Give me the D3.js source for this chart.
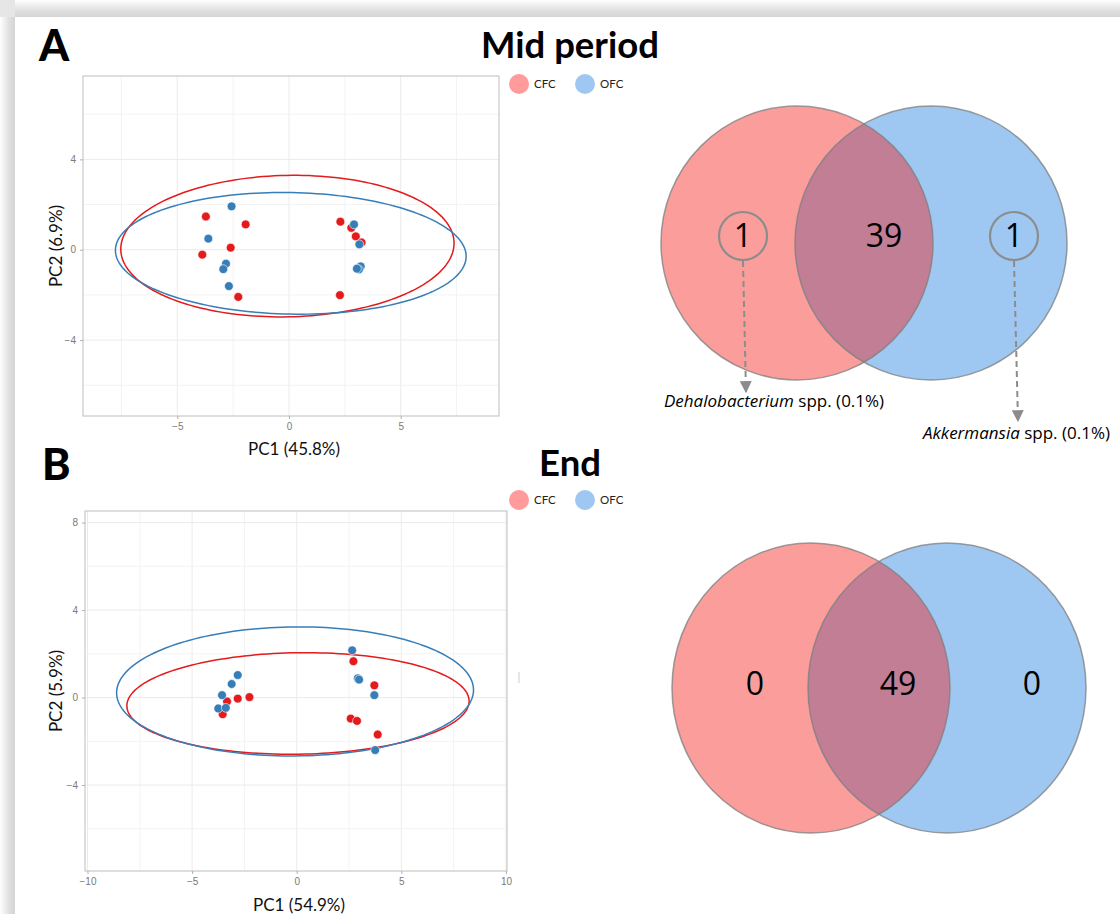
<!DOCTYPE html>
<html><head><meta charset="utf-8">
<script src="https://cdn.jsdelivr.net/npm/d3@7"></script>
<style>
html,body{margin:0;padding:0;background:#fff;}
svg{display:block;}
</style></head>
<body>
<svg id="chart" width="1120" height="914"></svg>
<script>
// ---------- DATA ----------
const groups = ["CFC", "OFC"];
const titles = ["Mid period", "End"];
const panelLetters = ["A", "B"];
const xAxisTitles = ["PC1 (45.8%)", "PC1 (54.9%)"];
const yAxisTitles = ["PC2 (6.9%)", "PC2 (5.9%)"];

const midXTicks = [-5, 0, 5];
const midYTicks = [-4, 0, 4];
const endXTicks = [-10, -5, 0, 5, 10];
const endYTicks = [-4, 0, 4, 8];
const midXDomain = [-9.22, 9.4];
const midYDomain = [-7.36, 7.69];
const endXDomain = [-10.12, 10.05];
const endYDomain = [-7.93, 8.53];

// PCA scores [PC1, PC2]
const midCFC = [[-3.72,1.47],[-1.94,1.12],[-3.88,-0.22],[-2.61,0.09],[-2.27,-2.09],
                [2.30,1.24],[2.79,0.97],[2.99,0.59],[3.25,0.32],[2.28,-2.01]];
const midOFC = [[-2.57,1.92],[-3.61,0.49],[-2.82,-0.62],[-2.94,-0.86],[-2.69,-1.61],
                [2.91,1.12],[3.15,0.24],[3.21,-0.74],[3.13,-0.87],[3.04,-0.84]];
const endCFC = [[2.71,1.66],[3.71,0.56],[2.58,-0.96],[2.88,-1.07],[3.87,-1.69],
                [-3.33,-0.18],[-2.82,-0.05],[-2.26,0.02],[-3.54,-0.76]];
const endOFC = [[2.65,2.16],[2.92,0.88],[2.98,0.82],[3.71,0.11],[3.75,-2.40],
                [-2.82,1.03],[-3.11,0.62],[-3.57,0.11],[-3.75,-0.50],[-3.39,-0.47]];

// confidence ellipses: [centerX, centerY, semiA, semiB, angleDeg]
const midEllCFC = [-0.07, 0.16, 7.46, 3.13, 1.2];
const midEllOFC = [0.08, -0.16, 7.85, 2.69, -1.1];
const endEllCFC = [0.06, -0.27, 8.18, 2.32, 0.8];
const endEllOFC = [-0.08, 0.28, 8.53, 2.95, 0.5];

// Venn counts: [CFC only, shared, OFC only]
const vennMid = [1, 39, 1];
const vennEnd = [0, 49, 0];
const vennMidNotes = [["Dehalobacterium", " spp. (0.1%)"], ["Akkermansia", " spp. (0.1%)"]];

// ---------- STYLE ----------
const ptColor = {CFC: "#E41A1C", OFC: "#377EB8"};
const legColor = {CFC: "#FF9B9B", OFC: "#9EC8F2"};
const vennRed = "#FB9E9B", vennBlue = "#9EC8F2", vennBoth = "#C17E95";
const FONT = "Lato, 'Open Sans', sans-serif";

const svg = d3.select("#chart");

// outer shadowed frame
const defs = svg.append("defs");
const gt = defs.append("linearGradient").attr("id", "gTop").attr("x1", 0).attr("y1", 0).attr("x2", 0).attr("y2", 1);
gt.append("stop").attr("offset", "0%").attr("stop-color", "#ffffff");
gt.append("stop").attr("offset", "60%").attr("stop-color", "#e0e0e0");
gt.append("stop").attr("offset", "100%").attr("stop-color", "#d4d4d4");
const gl = defs.append("linearGradient").attr("id", "gLeft").attr("x1", 0).attr("y1", 0).attr("x2", 1).attr("y2", 0);
gl.append("stop").attr("offset", "0%").attr("stop-color", "#ffffff");
gl.append("stop").attr("offset", "60%").attr("stop-color", "#e0e0e0");
gl.append("stop").attr("offset", "100%").attr("stop-color", "#d4d4d4");
svg.append("rect").attr("width", 1120).attr("height", 914).attr("fill", "#fff");
svg.append("rect").attr("x", 0).attr("y", 0).attr("width", 1120).attr("height", 17).attr("fill", "url(#gTop)");
svg.append("rect").attr("x", 0).attr("y", 0).attr("width", 15).attr("height", 914).attr("fill", "url(#gLeft)");
svg.append("rect").attr("x", 0).attr("y", 0).attr("width", 15).attr("height", 17).attr("fill", "#e6e6e6");

function pcaPanel(cfg) {
  const x = d3.scaleLinear().domain(cfg.xd).range([cfg.x0, cfg.x1]);
  const y = d3.scaleLinear().domain(cfg.yd).range([cfg.y1, cfg.y0]);
  const g = svg.append("g");
  const clipId = "clip" + cfg.id;
  svg.append("clipPath").attr("id", clipId).append("rect")
    .attr("x", cfg.x0).attr("y", cfg.y0).attr("width", cfg.x1 - cfg.x0).attr("height", cfg.y1 - cfg.y0);

  // grid (minor + major)
  const xg = d3.range(Math.ceil(cfg.xd[0] / 2.5) * 2.5, cfg.xd[1], 2.5);
  const yg = d3.range(Math.ceil(cfg.yd[0] / 2) * 2, cfg.yd[1], 2);
  g.selectAll(".vg").data(xg).join("line")
    .attr("x1", d => x(d)).attr("x2", d => x(d)).attr("y1", cfg.y0).attr("y2", cfg.y1)
    .attr("stroke", d => (Math.abs(d % 5) < 1e-6 ? "#ebebeb" : "#f3f3f3")).attr("stroke-width", 1);
  g.selectAll(".hg").data(yg).join("line")
    .attr("y1", d => y(d)).attr("y2", d => y(d)).attr("x1", cfg.x0).attr("x2", cfg.x1)
    .attr("stroke", d => (Math.abs(d % 4) < 1e-6 ? "#ebebeb" : "#f3f3f3")).attr("stroke-width", 1);

  // border
  g.append("rect").attr("x", cfg.x0).attr("y", cfg.y0)
    .attr("width", cfg.x1 - cfg.x0).attr("height", cfg.y1 - cfg.y0)
    .attr("fill", "none").attr("stroke", "#c9c9c9").attr("stroke-width", 1.2);

  // axes
  const xa = g.append("g").attr("transform", `translate(0,${cfg.y1})`)
    .call(d3.axisBottom(x).tickValues(cfg.xt).tickSize(3).tickPadding(4).tickFormat(d3.format("d")));
  const ya = g.append("g").attr("transform", `translate(${cfg.x0},0)`)
    .call(d3.axisLeft(y).tickValues(cfg.yt).tickSize(3).tickPadding(4).tickFormat(d3.format("d")));
  [xa, ya].forEach(a => {
    a.select(".domain").remove();
    a.selectAll(".tick line").attr("stroke", "#b0b0b0");
    a.selectAll(".tick text").attr("fill", "#7a7a7a").attr("font-size", 10)
      .attr("font-family", "'Liberation Sans', Arial, sans-serif");
  });

  // ellipses
  const line = d3.line().x(p => x(p[0])).y(p => y(p[1])).curve(d3.curveLinearClosed);
  const ells = [[cfg.ellC, "CFC"], [cfg.ellO, "OFC"]];
  ells.forEach(([e, grp]) => {
    const [cx, cy, a, b, ang] = e;
    const th = ang * Math.PI / 180;
    const pts = d3.range(0, 360, 2).map(t => {
      const r = t * Math.PI / 180;
      const ex = a * Math.cos(r), ey = b * Math.sin(r);
      return [cx + ex * Math.cos(th) - ey * Math.sin(th), cy + ex * Math.sin(th) + ey * Math.cos(th)];
    });
    g.append("path").attr("d", line(pts)).attr("fill", "none")
      .attr("stroke", ptColor[grp]).attr("stroke-width", 1.5).attr("clip-path", `url(#${clipId})`);
  });

  // points
  [[cfg.ptsC, "CFC"], [cfg.ptsO, "OFC"]].forEach(([pts, grp]) => {
    g.selectAll(".p" + grp).data(pts).join("circle")
      .attr("cx", d => x(d[0])).attr("cy", d => y(d[1])).attr("r", 4.4)
      .attr("fill", ptColor[grp]).attr("stroke", "#fff").attr("stroke-width", 0.6);
  });

  // axis titles
  g.append("text").attr("x", (cfg.x0 + cfg.x1) / 2 + 3).attr("y", cfg.xTitleY)
    .attr("text-anchor", "middle").attr("font-family", FONT).attr("font-size", 17)
    .attr("fill", "#111").text(cfg.xTitle);
  g.append("text").attr("transform", `translate(${cfg.yTitleX},${(cfg.y0 + cfg.y1) / 2}) rotate(-90)`)
    .attr("text-anchor", "middle").attr("font-family", FONT).attr("font-size", 17)
    .attr("fill", "#111").text(cfg.yTitle);

  // legend
  const lg = svg.append("g").attr("transform", `translate(0,${cfg.legY})`);
  const lx = [519, 585];
  groups.forEach((grp, i) => {
    lg.append("circle").attr("cx", lx[i]).attr("cy", 0).attr("r", 10).attr("fill", legColor[grp]);
    lg.append("text").attr("x", lx[i] + 15).attr("y", 4).attr("font-family", FONT)
      .attr("font-size", 11.5).attr("fill", "#222").text(grp);
  });
}

pcaPanel({id: "A", x0: 83, x1: 499, y0: 76, y1: 416, xd: midXDomain, yd: midYDomain,
  xt: midXTicks, yt: midYTicks, ptsC: midCFC, ptsO: midOFC, ellC: midEllCFC, ellO: midEllOFC,
  xTitle: xAxisTitles[0], yTitle: yAxisTitles[0], xTitleY: 455, yTitleX: 62, legY: 84});
pcaPanel({id: "B", x0: 85, x1: 507, y0: 511, y1: 871, xd: endXDomain, yd: endYDomain,
  xt: endXTicks, yt: endYTicks, ptsC: endCFC, ptsO: endOFC, ellC: endEllCFC, ellO: endEllOFC,
  xTitle: xAxisTitles[1], yTitle: yAxisTitles[1], xTitleY: 911, yTitleX: 62, legY: 500});

// Panel letters and titles
svg.append("text").attr("x", 39).attr("y", 61).attr("font-family", FONT).attr("font-weight", 900)
  .attr("font-size", 43).attr("fill", "#000").text(panelLetters[0]);
svg.append("text").attr("x", 42).attr("y", 480).attr("font-family", FONT).attr("font-weight", 900)
  .attr("font-size", 43).attr("fill", "#000").text(panelLetters[1]);
svg.append("text").attr("x", 570).attr("y", 58).attr("text-anchor", "middle").attr("font-family", FONT)
  .attr("font-weight", 700).attr("font-size", 36.5).attr("fill", "#000").text(titles[0]);
svg.append("text").attr("x", 570).attr("y", 476).attr("text-anchor", "middle").attr("font-family", FONT)
  .attr("font-weight", 700).attr("font-size", 36.5).attr("fill", "#000").text(titles[1]);

// small artifact mark
svg.append("line").attr("x1", 519).attr("x2", 519).attr("y1", 672).attr("y2", 683)
  .attr("stroke", "#d6d6d6").attr("stroke-width", 1.2);

// ---------- VENN ----------
function venn(cfg) {
  const g = svg.append("g");
  const id = "vclip" + cfg.id;
  g.append("clipPath").attr("id", id).append("ellipse")
    .attr("cx", cfg.cl).attr("cy", cfg.cy).attr("rx", cfg.rx).attr("ry", cfg.ry);
  g.append("ellipse").attr("cx", cfg.cl).attr("cy", cfg.cy).attr("rx", cfg.rx).attr("ry", cfg.ry)
    .attr("fill", vennRed);
  g.append("ellipse").attr("cx", cfg.cr).attr("cy", cfg.cy).attr("rx", cfg.rx).attr("ry", cfg.ry)
    .attr("fill", vennBlue);
  g.append("ellipse").attr("cx", cfg.cr).attr("cy", cfg.cy).attr("rx", cfg.rx).attr("ry", cfg.ry)
    .attr("fill", vennBoth).attr("clip-path", `url(#${id})`);
  [cfg.cl, cfg.cr].forEach(cx => {
    g.append("ellipse").attr("cx", cx).attr("cy", cfg.cy).attr("rx", cfg.rx).attr("ry", cfg.ry)
      .attr("fill", "none").attr("stroke", "#7d7d7d").attr("stroke-opacity", 0.75).attr("stroke-width", 1.5);
  });
  const pos = cfg.textX;
  cfg.counts.forEach((c, i) => {
    g.append("text").attr("x", pos[i]).attr("y", cfg.textY).attr("text-anchor", "middle")
      .attr("font-family", "'Open Sans', 'Noto Sans', sans-serif").attr("font-size", cfg.fs)
      .attr("fill", "#000").text(c);
  });
  return g;
}

venn({id: "A", cl: 797, cr: 931, cy: 243, rx: 136, ry: 137, counts: vennMid,
  textX: [743, 884, 1014], textY: 247, fs: 32});
venn({id: "B", cl: 811, cr: 947, cy: 688, rx: 139, ry: 145, counts: vennEnd,
  textX: [755, 898, 1032], textY: 695, fs: 32});

// annotation circles + dashed arrows for mid period
defs.append("marker").attr("id", "arr").attr("viewBox", "0 0 10 10")
  .attr("refX", 9).attr("refY", 5).attr("markerWidth", 12).attr("markerHeight", 12)
  .attr("markerUnits", "userSpaceOnUse").attr("orient", "auto")
  .append("path").attr("d", "M0,0 L10,5 L0,10 Z").attr("fill", "#8c8c8c");

const annX = [743, 1014];
const annTip = [[746, 392], [1018, 421]];
annX.forEach((ax, i) => {
  svg.append("circle").attr("cx", ax).attr("cy", 236).attr("r", 24)
    .attr("fill", "none").attr("stroke", "#8c8c8c").attr("stroke-width", 2.2);
  svg.append("line").attr("x1", ax).attr("y1", 261).attr("x2", annTip[i][0]).attr("y2", annTip[i][1])
    .attr("stroke", "#8c8c8c").attr("stroke-width", 2).attr("stroke-dasharray", "6,4")
    .attr("marker-end", "url(#arr)");
});
const noteX = [664, 923], noteY = [407, 439];
vennMidNotes.forEach((n, i) => {
  const t = svg.append("text").attr("x", noteX[i]).attr("y", noteY[i])
    .attr("font-family", "'Open Sans', 'Noto Sans', sans-serif").attr("font-size", 17).attr("fill", "#000");
  t.append("tspan").attr("font-style", "italic").text(n[0]);
  t.append("tspan").text(n[1]);
});
</script>
</body></html>
